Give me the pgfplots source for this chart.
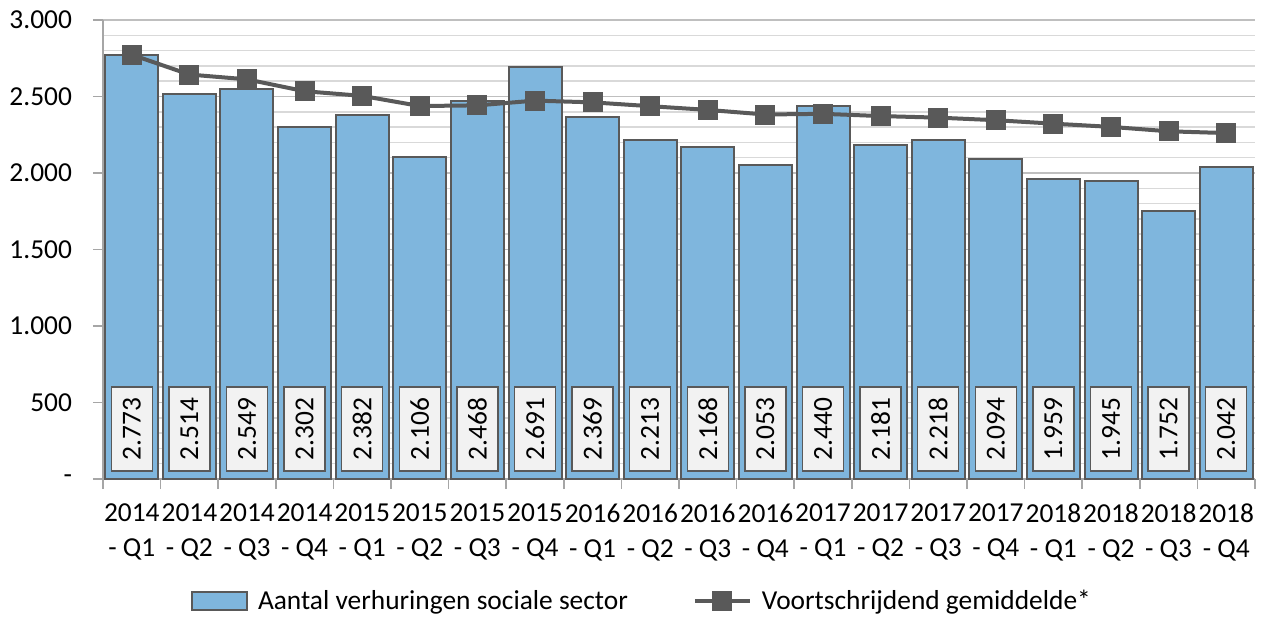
\documentclass[border=0pt]{standalone}
\usepackage{fontspec}
\setmainfont{Carlito}
\usepackage{pgfplots}
\pgfplotsset{compat=1.18}
\usepackage{pgfplotstable}
\definecolor{barblue}{RGB}{127,182,221}
\definecolor{dgray}{RGB}{89,89,89}
\definecolor{axisgray}{RGB}{166,166,166}
\definecolor{gridmaj}{RGB}{191,191,191}
\definecolor{gridmin}{RGB}{217,217,217}
\definecolor{boxfill}{RGB}{242,242,242}
\newcommand\cf{\fontsize{13.7bp}{17.5bp}\selectfont}

\pgfplotsset{
  barleg/.style={legend image code/.code={%
    \draw[##1] (0bp,-4.5bp) rectangle (27.5bp,4.5bp);}},
  lineleg/.style={legend image code/.code={%
    \draw[##1, mark repeat=2, mark phase=2]
      plot coordinates {(0bp,0bp) (13.75bp,0bp) (27.5bp,0bp)};}},
}

% kwartaal, aantal verhuringen, voortschrijdend gemiddelde, label
\pgfplotstableread{
x val avg lab
0  2773 2773.0 2.773
1  2514 2643.5 2.514
2  2549 2612.0 2.549
3  2302 2534.5 2.302
4  2382 2504.0 2.382
5  2106 2437.7 2.106
6  2468 2442.0 2.468
7  2691 2473.1 2.691
8  2369 2461.6 2.369
9  2213 2436.7 2.213
10 2168 2412.3 2.168
11 2053 2382.3 2.053
12 2440 2386.8 2.440
13 2181 2372.1 2.181
14 2218 2361.8 2.218
15 2094 2345.1 2.094
16 1959 2322.4 1.959
17 1945 2301.4 1.945
18 1752 2272.5 1.752
19 2042 2261.0 2.042
}\data

\begin{document}
\begin{tikzpicture}
\begin{axis}[
  scale only axis, width=576bp, height=229.5bp,
  xmin=-0.5, xmax=19.5, ymin=0, ymax=3000,
  axis lines*=left,
  axis line style={draw=axisgray, line width=0.75bp},
  tick align=outside,
  xtick={0,...,19},
  xticklabels={2014\\- Q1,2014\\- Q2,2014\\- Q3,2014\\- Q4,
    2015\\- Q1,2015\\- Q2,2015\\- Q3,2015\\- Q4,
    2016\\- Q1,2016\\- Q2,2016\\- Q3,2016\\- Q4,
    2017\\- Q1,2017\\- Q2,2017\\- Q3,2017\\- Q4,
    2018\\- Q1,2018\\- Q2,2018\\- Q3,2018\\- Q4},
  major x tick style={draw=none},
  minor xtick={-0.5,0.5,...,19.5},
  ytick={0,500,...,3000},
  yticklabels={-\hspace{6bp},500,1.000,1.500,2.000,2.500,3.000},
  minor ytick={100,200,...,2900},
  minor y tick style={draw=none},
  ymajorgrids, yminorgrids,
  major grid style={draw=gridmaj, line width=0.75bp},
  minor grid style={draw=gridmin, line width=0.75bp},
  major tick length=5bp, minor tick length=5bp,
  tick style={draw=axisgray, line width=0.75bp},
  ticklabel style={font=\cf},
  xticklabel style={align=center, yshift=-4bp},
  yticklabel style={xshift=-7bp},
  legend style={at={(axis description cs:0.4687,-0.266)}, anchor=center,
    draw=none, fill=none, font=\cf,
    /tikz/every odd column/.append style={column sep=3bp},
    /tikz/every even column/.append style={column sep=30.5bp}},
  legend columns=2, legend cell align=left,
]
\coordinate (bl) at (rel axis cs:0,0);
\coordinate (tr) at (rel axis cs:1,1);

\addplot[ybar, bar width=26.5bp, fill=barblue, draw=dgray, line width=1bp, barleg]
  table[x=x, y=val]{\data};
\addlegendentry{Aantal verhuringen sociale sector}

\addplot[color=dgray, line width=2bp, mark=square*, mark size=4bp,
  mark options={solid}, lineleg]
  table[x=x, y=avg]{\data};
\addlegendentry{Voortschrijdend gemiddelde*}

\addplot[draw=none, mark=none, forget plot, nodes near coords,
  point meta=explicit symbolic,
  every node near coord/.append style={rotate=90, anchor=center, font=\cf,
    fill=boxfill, draw=dgray, line width=0.75bp,
    minimum width=42bp, minimum height=20.5bp, inner sep=0pt}]
  table[x=x, y expr=327, meta=lab]{\data};
\end{axis}
\pgfresetboundingbox
\path ([xshift=-51.5bp,yshift=-69bp]bl) rectangle ([xshift=7.5bp,yshift=10bp]tr);
\end{tikzpicture}
\end{document}
